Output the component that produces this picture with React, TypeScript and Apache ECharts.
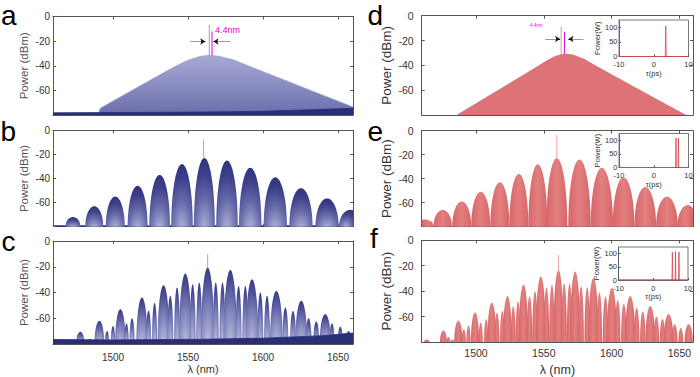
import React, { useEffect, useRef } from 'react';
import * as echarts from 'echarts';

const FONT = 'Liberation Sans, Arial, Helvetica, sans-serif';
const X_MIN = 1460;
const X_MAX = 1660;
const X_TICKS = [1500, 1550, 1600, 1650];
const Y_MIN = -80;
const Y_MAX = 0;
const T_TICKS = [-10, 0, 10];
const P_TICKS = [0, 50, 100];

// Panel a: envelope of broadband comb and noise floor [lambda nm, dBm]
const aEnvelope = [[1490, -80], [1491.5, -74.5], [1500, -68.7], [1520, -55], [1540, -41.5], [1550, -35.5], [1558, -32.5], [1564, -31.5], [1570, -32.2], [1580, -35.2], [1600, -44.8], [1620, -54.4], [1640, -64], [1660, -73.5]];
const aFloor = [[1460, -78.2], [1500, -78], [1560, -77.6], [1600, -77], [1630, -75.8], [1660, -74.5]];
// spikes [lambda, base dBm, top dBm]
const aSpikes = [[1564.2, -31.5, -6.8], [1566, -31.5, -12.2]];

// Panel b: lobes [center nm, peak dBm, width nm]
const bLobes = [[1459, -78.5, 5], [1473.3, -72, 10], [1487.5, -63, 12], [1501.5, -55, 12.7], [1516.4, -46, 13.3], [1531.1, -37, 13.8], [1546, -28, 14.4], [1560.9, -23, 14], [1576, -25, 14.4], [1591.5, -31, 15], [1608.2, -39, 15.5], [1625.3, -48, 15.5], [1642.7, -56.5, 15.5], [1658.2, -66, 15]];
const bFloor = [[1460, -79.2], [1660, -79.2]];
const bSpike = [1560.4, -23.5, -7.7];

// Panel c: lobes [center nm, peak dBm, width nm]
const cLobes = [[1478.2, -70.5, 5.5], [1484.5, -76, 3], [1490.9, -62, 6.5], [1496, -70, 3], [1500, -66, 3], [1504.9, -53, 7], [1509, -64, 3], [1512.7, -60, 3.5], [1519.3, -44, 7.5], [1523.7, -54, 3.5], [1527.7, -48, 3.5], [1533.7, -34.3, 8], [1538.2, -42.6, 4], [1542.7, -36.1, 4], [1548.2, -25.3, 8.5], [1553.1, -33.6, 4], [1557.5, -32.3, 4], [1563.1, -20.6, 9], [1568.5, -32.3, 4], [1573, -32.3, 4], [1578.2, -22.5, 9], [1583.7, -34.9, 4], [1588.2, -34.9, 4], [1592.7, -29.7, 8.5], [1598.2, -40, 4], [1602.7, -42.6, 4], [1608.9, -38.8, 8.5], [1614.9, -51.6, 4], [1620, -54.3, 4], [1625.5, -46.5, 8], [1630.4, -60, 4], [1635.5, -62.5, 4], [1641.5, -56.8, 7.5], [1646, -64, 3.5], [1651.5, -66.5, 3.5], [1657, -70, 4]];
const cFloor = [[1460, -76.5], [1500, -76.8], [1560, -76.3], [1600, -75.5], [1640, -73.5], [1660, -71.5]];
const cSpike = [1563.1, -21, -10.3];

// Panel d: simulated envelope
const dEnvelope = [[1486.3, -80], [1500, -71], [1520, -57.8], [1545, -41.3], [1552, -36.5], [1558, -33], [1563, -31.3], [1567, -31], [1572, -31.8], [1580, -35.2], [1589, -41], [1620, -59.6], [1654.3, -80]];
const dSpikes = [[1562.8, -31.3, -8.8], [1565.2, -31, -12.9]];

// Panel e: lobes [center nm, peak dBm, width nm]
const eLobes = [[1462.4, -74, 13], [1475.5, -66, 13.5], [1489.5, -59, 14], [1503.5, -51, 14], [1517.6, -43, 14], [1531.6, -36, 14], [1545.6, -28, 14], [1559.6, -23, 15.5], [1576.3, -24, 16.5], [1592.8, -31, 16.5], [1608.8, -39, 16], [1624.8, -47, 16], [1640.8, -55, 16], [1656, -62, 15]];
const eSpike = [1559.6, -23.5, -3.6];

// Panel f: lobes [center nm, peak dBm, width nm]
const fLobes = [[1463.7, -78, 4], [1476, -71, 5], [1479.7, -76, 2.5], [1482.5, -78, 2.5], [1487, -63.3, 6], [1491, -70, 3], [1494.5, -67, 3], [1499.3, -56.8, 6], [1503.5, -64.6, 3], [1507.5, -62, 3], [1511.7, -49, 6.5], [1515.5, -57, 3.5], [1519.5, -55.5, 3.5], [1523.2, -43.9, 6.5], [1527.5, -52, 3.5], [1531, -48, 3.5], [1535, -34.9, 7], [1539.5, -44, 4], [1543.5, -40, 4], [1547.8, -28.4, 7.5], [1552, -37, 4], [1556, -35, 4], [1560.8, -23.3, 7.5], [1565, -34, 4], [1569, -34, 4], [1573.1, -24.6, 7.5], [1577.5, -36, 4], [1582, -37, 4], [1586.6, -29.7, 7.5], [1591, -41, 4], [1595.5, -44, 4], [1600.2, -37.5, 7.5], [1604.5, -47, 4], [1609, -50, 4], [1613.7, -43.9, 7.5], [1618.5, -53, 4], [1623, -56, 4], [1628.5, -51.7, 7], [1633, -60, 4], [1637.5, -62, 4], [1642, -58, 7], [1646.5, -66, 4], [1651, -69, 3.5], [1656.8, -66, 6]];
const fSpike = [1560.8, -24, -11.6];

// Insets: temporal intensity [tau ps, power W]
const dPulse = [[-10, 0], [3.3, 0], [3.45, 105], [3.6, 0], [10, 0]];
const ePulse = [[-10, 0], [6.3, 0], [6.4, 108], [6.5, 0], [7.0, 0], [7.1, 108], [7.2, 0], [10, 0]];
const fPulse = [[-10, 0], [5.4, 0], [5.5, 105], [5.6, 0], [6.3, 0], [6.4, 108], [6.5, 0], [7.3, 0], [7.4, 106], [7.5, 0], [10, 0]];

const AXIS_COLOR = '#555';

function mainAxes(g: number, leftCol: boolean, bottomRow: boolean) {
  const lbl = { fontSize: 10, color: '#333', fontFamily: FONT };
  const line = { show: true, onZero: false, lineStyle: { color: AXIS_COLOR, width: 1 } };
  const xs = [
    {
      gridIndex: g, type: 'value', min: X_MIN, max: X_MAX, position: 'bottom',
      axisLine: line,
      axisTick: { show: true, inside: true, length: 3, customValues: X_TICKS, lineStyle: { color: AXIS_COLOR } },
      axisLabel: { show: bottomRow, customValues: X_TICKS, margin: leftCol ? 8 : 5, formatter: (v: number) => String(v), ...lbl, fontSize: leftCol ? 10 : 10.5 },
      splitLine: { show: false },
      name: bottomRow ? 'λ (nm)' : '', nameLocation: 'middle', nameGap: leftCol ? 19 : 21,
      nameTextStyle: { fontSize: leftCol ? 11 : 12.5, color: '#333', fontFamily: FONT },
    },
    {
      gridIndex: g, type: 'value', min: X_MIN, max: X_MAX, position: 'top',
      axisLine: line,
      axisTick: { show: true, inside: true, length: 3, customValues: X_TICKS, lineStyle: { color: AXIS_COLOR } },
      axisLabel: { show: false }, splitLine: { show: false },
    },
  ];
  const ys = [
    {
      gridIndex: g, type: 'value', min: Y_MIN, max: Y_MAX, interval: 20, position: 'left',
      axisLine: line,
      axisTick: { show: true, inside: true, length: 3, lineStyle: { color: AXIS_COLOR } },
      axisLabel: { margin: leftCol ? 3 : 8, formatter: (v: number) => (v === -80 ? '' : String(v)), ...lbl, fontSize: leftCol ? 10 : 10.5 },
      splitLine: { show: false },
      name: 'Power (dBm)', nameLocation: 'middle', nameGap: leftCol ? 23 : 28,
      nameTextStyle: { fontSize: leftCol ? 11.5 : 13.5, color: leftCol ? '#555' : '#333', fontFamily: FONT },
    },
    {
      gridIndex: g, type: 'value', min: Y_MIN, max: Y_MAX, interval: 20, position: 'right',
      axisLine: line,
      axisTick: { show: true, inside: true, length: 3, lineStyle: { color: AXIS_COLOR } },
      axisLabel: { show: false }, splitLine: { show: false },
    },
  ];
  return { xs, ys };
}

function insetAxes(g: number) {
  const lbl = { fontSize: 7.5, color: '#333', fontFamily: FONT };
  const x = {
    gridIndex: g, type: 'value', min: -10, max: 10, interval: 10, position: 'bottom',
    axisLine: { show: true, onZero: false, lineStyle: { color: AXIS_COLOR, width: 0.8 } },
    axisTick: { show: true, inside: true, length: 2, customValues: T_TICKS, lineStyle: { color: AXIS_COLOR } },
    axisLabel: { customValues: T_TICKS, margin: 4, ...lbl },
    splitLine: { show: false },
    name: 'τ(ps)', nameLocation: 'middle', nameGap: 12,
    nameTextStyle: { fontSize: 7.5, color: '#333', fontFamily: FONT },
  };
  const y = {
    gridIndex: g, type: 'value', min: 0, max: 125, position: 'left',
    axisLine: { show: true, onZero: false, lineStyle: { color: AXIS_COLOR, width: 0.8 } },
    axisTick: { show: true, inside: true, length: 2, customValues: P_TICKS, lineStyle: { color: AXIS_COLOR } },
    axisLabel: { customValues: P_TICKS, margin: 1.5, ...lbl },
    splitLine: { show: false },
    name: 'Power(W)', nameLocation: 'middle', nameGap: 18,
    nameTextStyle: { fontSize: 7.5, color: '#333', fontFamily: FONT },
  };
  return { x, y };
}

function lobeRenderer(kind: 'blue' | 'lightblue' | 'red') {
  return (params: any, api: any) => {
    const c = api.value(0);
    const pk = api.value(1);
    const w = api.value(2);
    const bl = api.coord([c - w / 2, Y_MIN]);
    const br = api.coord([c + w / 2, Y_MIN]);
    const tp = api.coord([c, pk]);
    const cx = (bl[0] + br[0]) / 2;
    const a = (br[0] - bl[0]) / 2;
    const h = bl[1] - tp[1];
    const pts: number[][] = [];
    const N = 36;
    for (let k = 0; k <= N; k++) {
      const t = (Math.PI * k) / N;
      pts.push([cx - a * Math.cos(t), bl[1] - h * Math.sin(t)]);
    }
    const cs = params.coordSys;
    const clipped = echarts.graphic.clipPointsByRect(pts, { x: cs.x, y: cs.y, width: cs.width, height: cs.height });
    let fill: any;
    if (kind === 'blue') {
      fill = new echarts.graphic.RadialGradient(0.5, 1.05, 1.05, [
        { offset: 0, color: '#b3b5dc' },
        { offset: 0.45, color: '#6669a8' },
        { offset: 0.8, color: '#3b3e88' },
        { offset: 1, color: '#30337d' },
      ]);
    } else if (kind === 'lightblue') {
      fill = new echarts.graphic.RadialGradient(0.5, 1.05, 1.05, [
        { offset: 0, color: '#c3c5e4' },
        { offset: 0.5, color: '#8083bb' },
        { offset: 0.85, color: '#4a4d94' },
        { offset: 1, color: '#3a3d88' },
      ]);
    } else {
      fill = new echarts.graphic.LinearGradient(0, 0, 1, 0, [
        { offset: 0, color: '#d96569' },
        { offset: 0.5, color: '#e2807f' },
        { offset: 1, color: '#d96569' },
      ]);
    }
    return { type: 'polygon', shape: { points: clipped }, style: { fill } };
  };
}

function spikeSeries(g: number, s: number[], color: string, extra: any = {}) {
  return {
    type: 'line', xAxisIndex: 2 * g, yAxisIndex: 2 * g, silent: true, showSymbol: false,
    data: [[s[0], s[1]], [s[0], s[2]]],
    lineStyle: { color, width: 1 }, z: 4,
    ...extra,
  };
}

function arrowMarks(y: number, l0: number, l1: number, r0: number, r1: number) {
  const gray = { color: '#9a9a9a', width: 1, type: 'solid' };
  const black = { color: '#111', width: 1, type: 'solid' };
  const hl = 2.5;
  return {
    silent: true, animation: false, label: { show: false }, symbolSize: [5, 5],
    data: [
      [{ coord: [l0, y], symbol: 'none', lineStyle: gray }, { coord: [l1, y], symbol: 'none' }],
      [{ coord: [l1 - hl, y], symbol: 'none', lineStyle: black }, { coord: [l1, y], symbol: 'arrow' }],
      [{ coord: [r0, y], symbol: 'none', lineStyle: gray }, { coord: [r1, y], symbol: 'none' }],
      [{ coord: [r1 + hl, y], symbol: 'none', lineStyle: black }, { coord: [r1, y], symbol: 'arrow' }],
    ],
  };
}

export default function App() {
  const ref = useRef<HTMLDivElement>(null);
  useEffect(() => {
    if (!ref.current) return;
    const chart = echarts.init(ref.current, null, { renderer: 'svg' });

    const grids: any[] = [
      { left: 53, top: 16.5, width: 300, height: 98.5 },
      { left: 53, top: 130.3, width: 300, height: 96.4 },
      { left: 53, top: 241, width: 300, height: 103 },
      { left: 421.7, top: 15.7, width: 271.3, height: 99.3 },
      { left: 421.7, top: 130.7, width: 271.3, height: 96 },
      { left: 421.7, top: 240.3, width: 271.3, height: 103.7 },
      { left: 619, top: 20, width: 69.5, height: 36.5, show: true, backgroundColor: '#fff', borderColor: AXIS_COLOR, borderWidth: 0.8 },
      { left: 619, top: 133.5, width: 69.5, height: 34, show: true, backgroundColor: '#fff', borderColor: AXIS_COLOR, borderWidth: 0.8 },
      { left: 618.5, top: 247, width: 69.5, height: 33, show: true, backgroundColor: '#fff', borderColor: AXIS_COLOR, borderWidth: 0.8 },
    ];

    const xAxis: any[] = [];
    const yAxis: any[] = [];
    for (let g = 0; g < 6; g++) {
      const { xs, ys } = mainAxes(g, g < 3, g === 2 || g === 5);
      xAxis.push(...xs);
      yAxis.push(...ys);
    }
    for (let k = 0; k < 3; k++) {
      const { x, y } = insetAxes(6 + k);
      xAxis.push(x);
      yAxis.push(y);
    }

    const lobes = (g: number, data: number[][], kind: 'blue' | 'lightblue' | 'red') => ({
      type: 'custom', xAxisIndex: 2 * g, yAxisIndex: 2 * g, silent: true,
      renderItem: lobeRenderer(kind), encode: { x: 0, y: 1 }, data, z: 2,
    });
    const area = (g: number, data: number[][], color: any, lineColor: string, z = 2) => ({
      type: 'line', xAxisIndex: 2 * g, yAxisIndex: 2 * g, silent: true, showSymbol: false,
      data, lineStyle: { color: lineColor, width: 0.8 },
      areaStyle: { origin: 'start', color, opacity: 1 }, z,
    });
    const pulse = (k: number, data: number[][]) => ({
      type: 'line', xAxisIndex: 12 + k, yAxisIndex: 12 + k, silent: true, showSymbol: false,
      data, lineStyle: { color: '#d9454b', width: 0.8 }, z: 5,
    });

    const series: any[] = [
      // a
      area(0, aEnvelope, new echarts.graphic.LinearGradient(0, 0, 0, 1, [
        { offset: 0, color: '#a7a9d5' }, { offset: 0.6, color: '#8487bd' }, { offset: 1, color: '#6a6dab' },
      ]), '#9c9ecf'),
      area(0, aFloor, '#2a2d78', '#2a2d78', 3),
      spikeSeries(0, aSpikes[0], '#9a9cd0'),
      spikeSeries(0, aSpikes[1], '#e000e0', { markLine: arrowMarks(-20.3, 1551.5, 1561.5, 1578.2, 1567) }),
      // b
      area(1, bFloor, '#2a2d78', '#2a2d78', 1),
      lobes(1, bLobes, 'blue'),
      spikeSeries(1, bSpike, '#a4a6d4'),
      // c
      lobes(2, cLobes, 'lightblue'),
      area(2, cFloor, '#2a2d78', '#2a2d78', 3),
      spikeSeries(2, cSpike, '#a4a6d4'),
      // d
      area(3, dEnvelope, '#dd7377', '#d8666a'),
      spikeSeries(3, dSpikes[0], '#c9a0a3'),
      spikeSeries(3, dSpikes[1], '#e000e0', { markLine: arrowMarks(-18.8, 1551, 1562, 1579.3, 1568.2) }),
      // e
      lobes(4, eLobes, 'red'),
      spikeSeries(4, eSpike, '#eba2a4'),
      // f
      lobes(5, fLobes, 'red'),
      spikeSeries(5, fSpike, '#eba2a4'),
      // insets
      pulse(0, dPulse),
      pulse(1, ePulse),
      pulse(2, fPulse),
    ];

    const letter = (t: string, x: number, baseline: number) => ({
      type: 'text', x, y: baseline - 0.3465 * 28, silent: true,
      style: { text: t, fontSize: 28, fontFamily: FONT, fill: '#000', verticalAlign: 'middle', align: 'left' },
    });

    const graphic: any[] = [
      letter('a', 1, 25),
      letter('b', 0.5, 141.7),
      letter('c', 1.5, 251.5),
      letter('d', 367.5, 25),
      letter('e', 367.5, 141.7),
      letter('f', 370, 248.5),
      { type: 'text', x: 215, y: 30, silent: true, style: { text: '4.4nm', fontSize: 9, fontFamily: FONT, fill: '#e000e0', verticalAlign: 'middle', align: 'left' } },
      { type: 'text', x: 530, y: 25.5, silent: true, style: { text: '4.4nm', fontSize: 4.5, fontFamily: FONT, fill: '#e000e0', verticalAlign: 'middle', align: 'left' } },
    ];

    chart.setOption({
      animation: false,
      backgroundColor: '#ffffff',
      grid: grids,
      xAxis,
      yAxis,
      series,
      graphic,
    });
    return () => chart.dispose();
  }, []);
  return <div ref={ref} style={{ position: 'fixed', left: 0, top: 0, width: 700, height: 377, background: '#fff' }} />;
}
